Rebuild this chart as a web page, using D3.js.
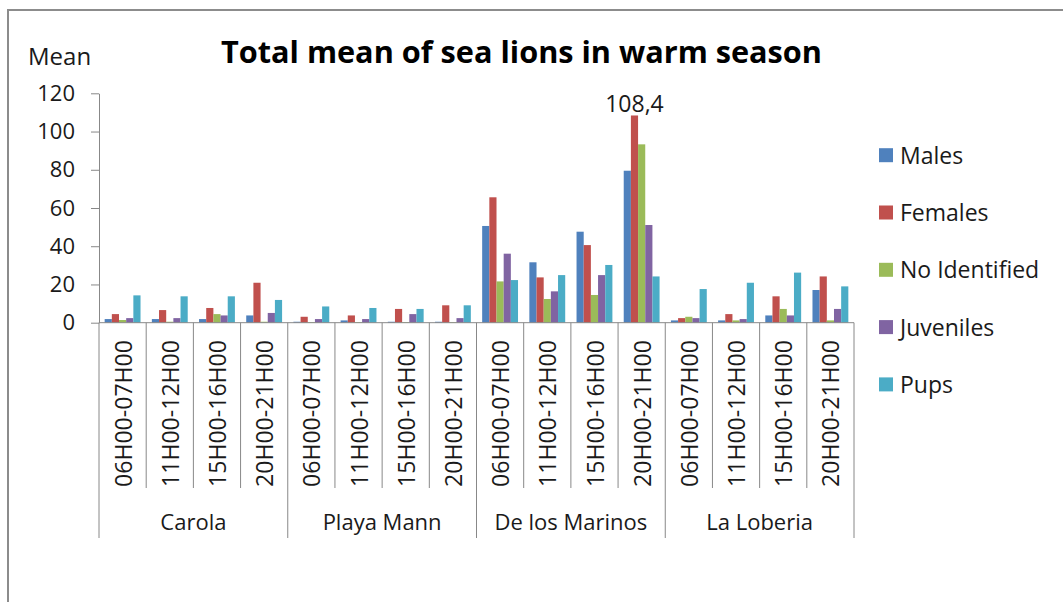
<!DOCTYPE html>
<html>
<head>
<meta charset="utf-8">
<script src="https://cdn.jsdelivr.net/npm/d3@7"></script>
<style>
  body { margin: 0; background: #fff; }
  svg { display: block; }
</style>
</head>
<body>
<div id="chart"></div>
<script>
// sites and time slots
const groups = ["Carola", "Playa Mann", "De los Marinos", "La Loberia"];
const periods = ["06H00-07H00", "11H00-12H00", "15H00-16H00", "20H00-21H00"];
const seriesNames = ["Males", "Females", "No Identified", "Juveniles", "Pups"];
const seriesColors = ["#4F81BD", "#C0504D", "#9BBB59", "#8064A2", "#4BACC6"];
const yTicks = [0, 20, 40, 60, 80, 100, 120];

// values per category (site x period), in order
const males     = [1.9, 1.9, 1.9, 3.8,  0.5, 1.2, 0.5, 0.5,  50.6, 31.6, 47.6, 79.5,  1.2, 1.2, 3.8, 17.1];
const females   = [4.5, 6.6, 7.7, 20.9, 3.1, 3.8, 7.2, 9.1,  65.6, 23.7, 40.6, 108.4, 2.4, 4.5, 13.8, 24.2];
const noIdent   = [1.4, 0.5, 4.5, 0.5,  0.3, 0.3, 0.3, 0.3,  21.6, 12.4, 14.5, 93.3,  3.1, 1.2, 7.2, 1.2];
const juveniles = [2.4, 2.4, 3.8, 5.1,  1.9, 1.9, 4.5, 2.4,  36.1, 16.4, 24.9, 51.1,  2.4, 1.9, 3.8, 7.2];
const pups      = [14.3, 13.8, 13.8, 11.9, 8.5, 7.7, 7.2, 9.1, 22.3, 24.9, 30.2, 24.2, 17.6, 20.9, 26.2, 19.0];

const seriesValues = [males, females, noIdent, juveniles, pups];

const W = 1063, H = 602;
const font = "'Open Sans', 'Noto Sans', sans-serif";
const axisColor = "#888888";
const textColor = "#1a1a1a";

// build category keys
const cats = [];
groups.forEach(g => periods.forEach(p => cats.push({ group: g, period: p, key: g + "|" + p })));

const svg = d3.select("#chart").append("svg")
    .attr("width", W)
    .attr("height", H);

// chart frame (only top/left visible in the crop)
svg.append("path")
    .attr("d", `M8,${H} V10 H${W}`)
    .attr("fill", "none")
    .attr("stroke", "#8c8c8c")
    .attr("stroke-width", 2);

const plot = { left: 99, right: 854, top: 93.3, bottom: 322.7 };

const x0 = d3.scaleBand()
    .domain(cats.map(d => d.key))
    .range([plot.left, plot.right])
    .padding(0);

const gap = x0.bandwidth() * 0.12;
const x1 = d3.scaleBand()
    .domain(seriesNames)
    .range([gap, x0.bandwidth() - gap])
    .padding(0);

const y = d3.scaleLinear()
    .domain([0, 120])
    .range([plot.bottom, plot.top]);

// title
svg.append("text")
    .attr("x", 221)
    .attr("y", 63)
    .attr("font-family", font)
    .attr("font-weight", "bold")
    .attr("font-size", 31)
    .attr("fill", "#000")
    .attr("textLength", 601)
    .attr("lengthAdjust", "spacingAndGlyphs")
    .text("Total mean of sea lions in warm season");

// y axis title
svg.append("text")
    .attr("x", 28)
    .attr("y", 65)
    .attr("font-family", font)
    .attr("font-size", 24)
    .attr("fill", textColor)
    .text("Mean");

// y axis
const yAxis = svg.append("g")
    .attr("transform", `translate(${plot.left},0)`)
    .call(d3.axisLeft(y).tickValues(yTicks).tickSize(8).tickSizeOuter(0).tickPadding(16));

yAxis.select(".domain").attr("stroke", axisColor);
yAxis.selectAll(".tick line").attr("stroke", axisColor);
yAxis.selectAll(".tick text")
    .attr("font-family", font)
    .attr("font-size", 22)
    .attr("fill", textColor);

// bars
const catG = svg.append("g").selectAll("g.cat")
    .data(cats)
    .enter()
    .append("g")
    .attr("class", "cat")
    .attr("transform", d => `translate(${x0(d.key)},0)`);

catG.selectAll("rect")
    .data((d, i) => seriesNames.map((s, j) => ({ series: s, color: seriesColors[j], value: seriesValues[j][i] })))
    .enter()
    .append("rect")
    .attr("x", d => x1(d.series))
    .attr("width", x1.bandwidth())
    .attr("y", d => y(d.value))
    .attr("height", d => y(0) - y(d.value))
    .attr("fill", d => d.color);

// x axis line
svg.append("line")
    .attr("x1", plot.left).attr("x2", plot.right)
    .attr("y1", plot.bottom).attr("y2", plot.bottom)
    .attr("stroke", axisColor);

// category separators (longer at group boundaries)
const bounds = d3.range(cats.length + 1);
svg.append("g").selectAll("line")
    .data(bounds)
    .enter()
    .append("line")
    .attr("x1", i => i < cats.length ? x0(cats[i].key) : plot.right)
    .attr("x2", i => i < cats.length ? x0(cats[i].key) : plot.right)
    .attr("y1", plot.bottom)
    .attr("y2", i => i % periods.length === 0 ? 538 : 488)
    .attr("stroke", axisColor);

// rotated period labels
svg.append("g").selectAll("text")
    .data(cats)
    .enter()
    .append("text")
    .attr("transform", d => `translate(${x0(d.key) + x0.bandwidth() / 2 + 1},340) rotate(-90)`)
    .attr("dy", "0.35em")
    .attr("text-anchor", "end")
    .attr("font-family", font)
    .attr("font-size", 23)
    .attr("fill", textColor)
    .attr("textLength", 147)
    .attr("lengthAdjust", "spacingAndGlyphs")
    .text(d => d.period);

// group labels
svg.append("g").selectAll("text")
    .data(groups)
    .enter()
    .append("text")
    .attr("x", g => {
        const first = x0(g + "|" + periods[0]);
        return first + x0.bandwidth() * periods.length / 2;
    })
    .attr("y", 530)
    .attr("text-anchor", "middle")
    .attr("font-family", font)
    .attr("font-size", 22)
    .attr("fill", textColor)
    .text(g => g);

// data label on the maximum bar
const maxVal = d3.max(females);
const maxIdx = females.indexOf(maxVal);
svg.append("text")
    .attr("x", x0(cats[maxIdx].key) + x1("Females") + x1.bandwidth() / 2)
    .attr("y", y(maxVal) - 3)
    .attr("text-anchor", "middle")
    .attr("font-family", font)
    .attr("font-size", 23)
    .attr("fill", textColor)
    .text(String(maxVal).replace(".", ","));

// legend
const legend = svg.append("g").selectAll("g.leg")
    .data(seriesNames)
    .enter()
    .append("g")
    .attr("class", "leg")
    .attr("transform", (d, i) => `translate(879,${155.7 + i * 57.3})`);

legend.append("rect")
    .attr("x", 0)
    .attr("y", -7.5)
    .attr("width", 14)
    .attr("height", 14)
    .attr("fill", (d, i) => seriesColors[i]);

legend.append("text")
    .attr("x", 21)
    .attr("y", 8)
    .attr("font-family", font)
    .attr("font-size", 23)
    .attr("fill", textColor)
    .text(d => d);
</script>
</body>
</html>
